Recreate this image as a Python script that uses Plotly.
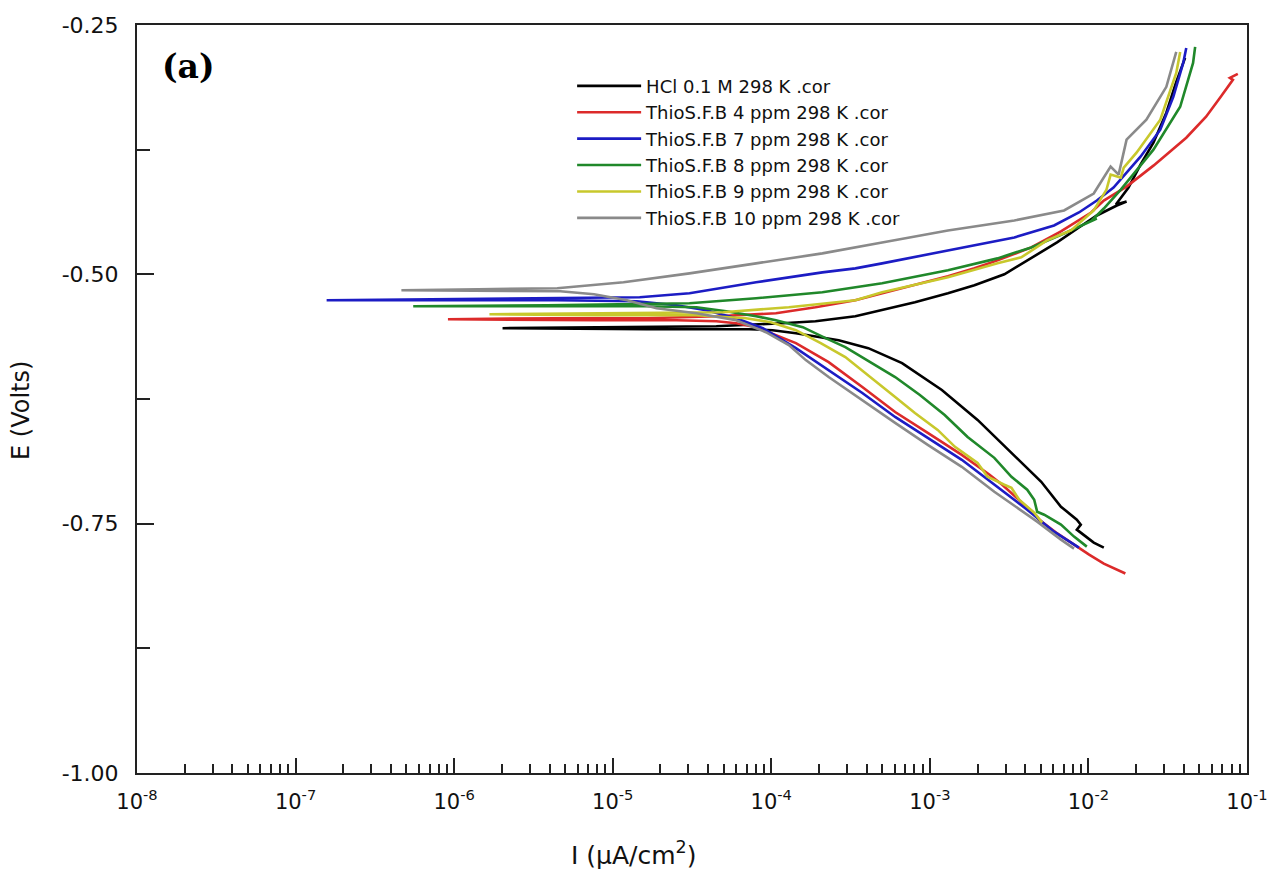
import plotly.graph_objects as go

# ---------------- data ----------------
series_names = [
    "HCl 0.1 M 298 K .cor",
    "ThioS.F.B 4 ppm 298 K .cor",
    "ThioS.F.B 7 ppm 298 K .cor",
    "ThioS.F.B 8 ppm 298 K .cor",
    "ThioS.F.B 9 ppm 298 K .cor",
    "ThioS.F.B 10 ppm 298 K .cor",
]
series_colors = ["#000000", "#dc2a2a", "#1c1cc4", "#20882a", "#c8c82c", "#8a8a8a"]

# current I and potential E, traced from cathodic end -> Ecorr spike -> anodic end
i_hcl = [1.25e-2, 1.08e-2, 8.45e-3, 8.95e-3, 8.45e-3, 6.71e-3, 5.04e-3, 3.27e-3, 2.00e-3, 1.19e-3,
         6.68e-4, 4.09e-4, 2.66e-4, 1.43e-4, 1.02e-4, 7.25e-5, 1.64e-5, 2.02e-6, 1.06e-5, 4.50e-5,
         1.18e-4, 1.90e-4, 3.39e-4, 5.00e-4, 8.05e-4, 1.30e-3, 1.91e-3, 2.95e-3, 4.36e-3, 6.34e-3,
         8.71e-3, 1.13e-2, 1.51e-2, 1.74e-2, 1.49e-2, 1.79e-2, 2.13e-2, 2.57e-2, 3.10e-2, 3.58e-2,
         4.07e-2]
e_hcl = [-0.774, -0.769, -0.756, -0.751, -0.746, -0.733, -0.708, -0.679, -0.646, -0.616,
         -0.589, -0.574, -0.566, -0.559, -0.556, -0.555, -0.555, -0.554, -0.553, -0.552,
         -0.549, -0.547, -0.542, -0.536, -0.528, -0.519, -0.511, -0.500, -0.484, -0.468,
         -0.453, -0.441, -0.431, -0.427, -0.430, -0.413, -0.390, -0.368, -0.338, -0.307,
         -0.283]

i_4ppm = [1.71e-2, 1.55e-2, 1.25e-2, 1.01e-2, 8.11e-3, 6.25e-3, 4.89e-3, 4.42e-3, 3.94e-3, 3.41e-3,
          3.08e-3, 2.86e-3, 2.38e-3, 1.59e-3, 9.70e-4, 6.04e-4, 3.75e-4, 2.30e-4, 1.43e-4, 9.93e-5,
          8.02e-5, 6.00e-5, 4.50e-5, 2.52e-5, 7.96e-6, 9.14e-7, 4.47e-6, 1.64e-5, 4.50e-5, 1.07e-4,
          1.90e-4, 3.39e-4, 5.00e-4, 8.05e-4, 1.30e-3, 1.91e-3, 2.67e-3, 4.36e-3, 6.71e-3, 1.04e-2,
          1.25e-2, 1.74e-2, 2.57e-2, 4.14e-2, 5.52e-2, 6.76e-2, 8.15e-2, 7.80e-2, 8.75e-2]
e_4ppm = [-0.800, -0.797, -0.790, -0.781, -0.771, -0.759, -0.746, -0.738, -0.731, -0.722,
          -0.715, -0.711, -0.701, -0.681, -0.659, -0.638, -0.613, -0.588, -0.569, -0.559,
          -0.553, -0.549, -0.547, -0.546, -0.546, -0.545, -0.544, -0.544, -0.542, -0.539,
          -0.533, -0.526, -0.519, -0.511, -0.502, -0.494, -0.486, -0.473, -0.457, -0.438,
          -0.426, -0.412, -0.391, -0.363, -0.342, -0.323, -0.305, -0.303, -0.299]

i_7ppm = [8.71e-3, 6.07e-3, 4.11e-3, 2.55e-3, 1.59e-3, 9.70e-4, 6.04e-4, 3.75e-4, 2.30e-4, 1.43e-4,
          8.85e-5, 6.00e-5, 3.89e-5, 2.52e-5, 1.42e-5, 4.47e-6, 1.57e-7, 9.14e-7, 7.96e-6, 1.48e-5,
          3.05e-5, 8.02e-5, 2.10e-4, 3.39e-4, 5.00e-4, 1.30e-3, 3.41e-3, 6.07e-3, 8.71e-3, 1.13e-2,
          1.44e-2, 2.13e-2, 2.84e-2, 3.43e-2, 3.96e-2, 4.14e-2]
e_7ppm = [-0.774, -0.758, -0.736, -0.711, -0.686, -0.664, -0.643, -0.619, -0.596, -0.574,
          -0.554, -0.544, -0.536, -0.531, -0.527, -0.526, -0.526, -0.525, -0.524, -0.523,
          -0.519, -0.508, -0.498, -0.494, -0.489, -0.476, -0.463, -0.451, -0.438, -0.426,
          -0.413, -0.382, -0.355, -0.322, -0.288, -0.273]

i_8ppm = [9.77e-3, 8.11e-3, 6.71e-3, 5.26e-3, 4.75e-3, 4.55e-3, 4.11e-3, 3.27e-3, 2.55e-3, 1.73e-3,
          1.24e-3, 8.65e-4, 6.04e-4, 4.21e-4, 2.93e-4, 2.20e-4, 1.58e-4, 1.07e-4, 8.02e-5, 5.20e-5,
          3.37e-5, 1.64e-5, 5.52e-7, 3.87e-6, 3.05e-5, 8.02e-5, 2.10e-4, 5.00e-4, 1.30e-3, 2.67e-3,
          4.36e-3, 7.02e-3, 1.01e-2, 1.13e-2, 1.05e-2, 1.25e-2, 1.60e-2, 2.57e-2, 3.79e-2, 4.57e-2,
          4.71e-2]
e_8ppm = [-0.773, -0.763, -0.751, -0.741, -0.738, -0.726, -0.716, -0.703, -0.684, -0.663,
          -0.641, -0.621, -0.603, -0.588, -0.573, -0.564, -0.553, -0.546, -0.542, -0.537,
          -0.533, -0.532, -0.532, -0.531, -0.529, -0.524, -0.518, -0.509, -0.496, -0.484,
          -0.473, -0.459, -0.448, -0.444, -0.446, -0.434, -0.415, -0.375, -0.332, -0.288,
          -0.272]

i_9ppm = [5.11e-3, 4.55e-3, 3.66e-3, 3.27e-3, 2.95e-3, 2.31e-3, 2.00e-3, 1.44e-3, 1.12e-3, 8.05e-4,
          6.04e-4, 4.21e-4, 2.93e-4, 2.05e-4, 1.43e-4, 9.93e-5, 6.93e-5, 3.37e-5, 7.96e-6, 1.67e-6,
          7.96e-6, 4.98e-5, 1.29e-4, 3.39e-4, 5.00e-4, 1.30e-3, 2.67e-3, 3.77e-3, 5.48e-3, 7.76e-3,
          1.08e-2, 1.30e-2, 1.38e-2, 1.60e-2, 1.67e-2, 2.01e-2, 2.84e-2, 3.58e-2, 3.79e-2]
e_9ppm = [-0.749, -0.739, -0.726, -0.714, -0.711, -0.703, -0.689, -0.673, -0.656, -0.639,
          -0.623, -0.603, -0.583, -0.569, -0.556, -0.548, -0.544, -0.541, -0.541, -0.540,
          -0.539, -0.538, -0.533, -0.526, -0.518, -0.503, -0.489, -0.483, -0.466, -0.456,
          -0.436, -0.415, -0.400, -0.403, -0.393, -0.378, -0.345, -0.298, -0.277]

i_10ppm = [8.11e-3, 6.71e-3, 4.75e-3, 4.11e-3, 2.55e-3, 1.59e-3, 9.70e-4, 6.04e-4, 3.75e-4, 2.30e-4,
           1.65e-4, 1.29e-4, 9.25e-5, 6.00e-5, 3.37e-5, 1.89e-5, 1.23e-5, 7.62e-6, 4.67e-6, 4.65e-7,
           1.41e-6, 4.47e-6, 1.17e-5, 3.05e-5, 8.02e-5, 2.10e-4, 5.00e-4, 1.30e-3, 3.41e-3, 7.02e-3,
           1.08e-2, 1.38e-2, 1.55e-2, 1.74e-2, 2.32e-2, 3.10e-2, 3.58e-2]
e_10ppm = [-0.775, -0.766, -0.748, -0.741, -0.718, -0.693, -0.671, -0.649, -0.626, -0.603,
           -0.586, -0.571, -0.558, -0.546, -0.539, -0.534, -0.526, -0.520, -0.517, -0.516,
           -0.515, -0.514, -0.508, -0.499, -0.489, -0.479, -0.468, -0.456, -0.446, -0.436,
           -0.419, -0.392, -0.400, -0.365, -0.345, -0.312, -0.277]

x_tick_vals = [1e-8, 1e-7, 1e-6, 1e-5, 1e-4, 1e-3, 1e-2, 1e-1]
x_tick_text = ["10<sup>-8</sup>", "10<sup>-7</sup>", "10<sup>-6</sup>", "10<sup>-5</sup>",
               "10<sup>-4</sup>", "10<sup>-3</sup>", "10<sup>-2</sup>", "10<sup>-1</sup>"]
y_tick_vals = [-1.00, -0.75, -0.50, -0.25]
y_tick_text = ["-1.00", "-0.75", "-0.50", "-0.25"]
y_minor_vals = [-0.875, -0.625, -0.375]

all_i = [i_hcl, i_4ppm, i_7ppm, i_8ppm, i_9ppm, i_10ppm]
all_e = [e_hcl, e_4ppm, e_7ppm, e_8ppm, e_9ppm, e_10ppm]

# ---------------- figure ----------------
fig = go.Figure()
for name, xs, ys, col in zip(series_names, all_i, all_e, series_colors):
    fig.add_trace(go.Scatter(x=xs, y=ys, mode="lines", name=name,
                             line=dict(color=col, width=2.6)))

x_minor_vals = [m * 10.0 ** p for p in range(-8, -1) for m in range(2, 10)]

axis_col = "#222222"
fig.update_xaxes(
    type="log", range=[-8, -1],
    tickmode="array", tickvals=x_tick_vals, ticktext=x_tick_text,
    ticks="inside", ticklen=15, tickwidth=2, tickcolor=axis_col,
    minor=dict(tickmode="array", tickvals=x_minor_vals, ticks="inside",
               ticklen=9, tickwidth=2, tickcolor=axis_col, showgrid=False),
    showline=True, linewidth=2, linecolor=axis_col, mirror=True,
    showgrid=False, zeroline=False,
    tickfont=dict(family="DejaVu Sans", size=21, color="#111111"),
    ticklabelstandoff=9,
)
fig.update_yaxes(
    range=[-1.0, -0.25],
    tickmode="array", tickvals=y_tick_vals, ticktext=y_tick_text,
    ticks="inside", ticklen=17, tickwidth=2, tickcolor=axis_col,
    minor=dict(tickmode="array", tickvals=y_minor_vals, ticks="inside",
               ticklen=13, tickwidth=2, tickcolor=axis_col, showgrid=False),
    showline=True, linewidth=2, linecolor=axis_col, mirror=True,
    showgrid=False, zeroline=False,
    tickfont=dict(family="DejaVu Sans", size=22, color="#111111"),
    ticklabelstandoff=12,
)

fig.update_layout(
    width=1280, height=870,
    margin=dict(l=137, r=26, t=25, b=97),
    paper_bgcolor="white", plot_bgcolor="white",
    font=dict(family="DejaVu Sans", size=20, color="#111111"),
    showlegend=True,
    legend=dict(x=0.392, y=0.943, xanchor="left", yanchor="top",
                font=dict(family="DejaVu Sans", size=18, color="#111111"),
                bgcolor="rgba(0,0,0,0)", borderwidth=0, tracegroupgap=0,
                itemwidth=64),
    annotations=[
        dict(text="<b>(a)</b>", xref="paper", yref="paper", x=0.0206, y=0.945,
             xanchor="left", yanchor="middle", showarrow=False,
             font=dict(family="DejaVu Serif", size=33, color="#000000")),
        dict(text="E (Volts)", xref="paper", yref="paper", x=-0.1047, y=0.485,
             xanchor="center", yanchor="middle", textangle=-90, showarrow=False,
             font=dict(family="DejaVu Sans", size=24, color="#111111")),
        dict(text="I (µA/cm<sup>2</sup>)", xref="paper", yref="paper", x=0.4476, y=-0.107,
             xanchor="center", yanchor="middle", showarrow=False,
             font=dict(family="DejaVu Sans", size=25, color="#111111")),
    ],
)

fig.write_html("out.html")
